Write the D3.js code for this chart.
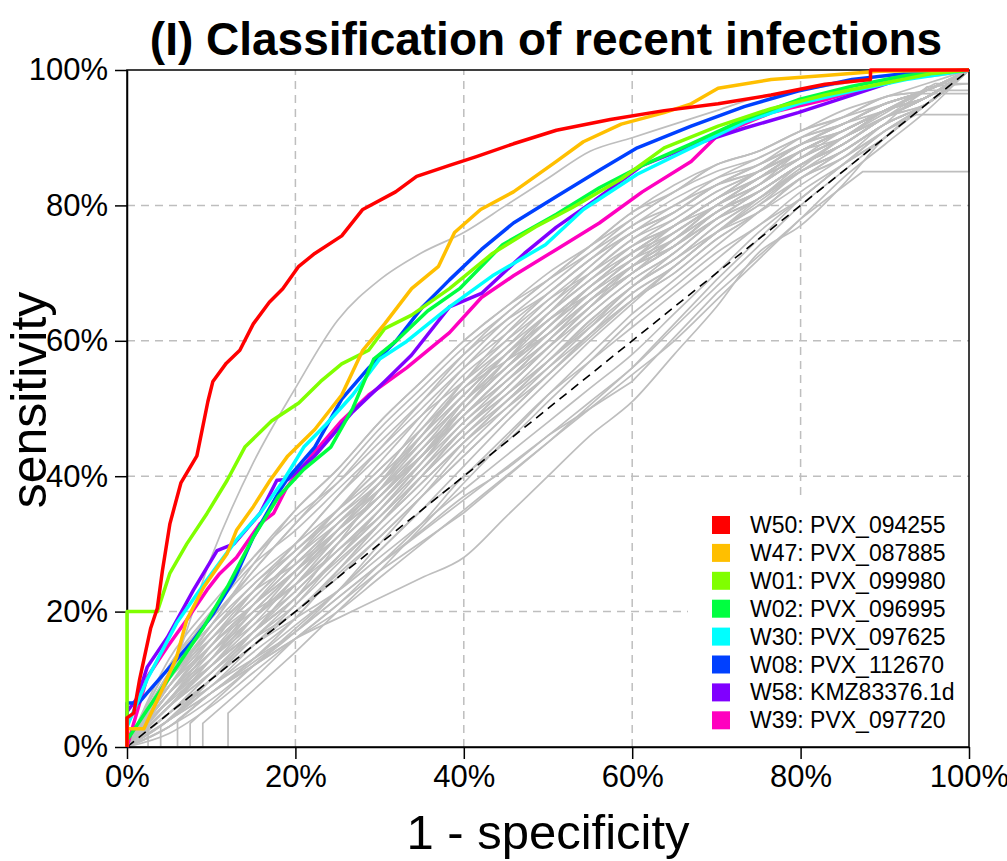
<!DOCTYPE html>
<html>
<head>
<meta charset="utf-8">
<script src="https://cdn.jsdelivr.net/npm/d3@7"></script>
<style>
  body { margin: 0; background: #fff; }
  text { font-family: "Liberation Sans", Arial, sans-serif; }
</style>
</head>
<body>
<div id="chart"></div>
<script>
// ROC curves, values in percent: [1 - specificity, sensitivity]
var seriesNames = ["W50: PVX_094255", "W47: PVX_087885", "W01: PVX_099980", "W02: PVX_096995",
  "W30: PVX_097625", "W08: PVX_112670", "W58: KMZ83376.1d", "W39: PVX_097720"];
var seriesColors = ["#FF0000", "#FFBF00", "#80FF00", "#00FF40", "#00FFFF", "#0040FF", "#8000FF", "#FF00BF"];

var w50 = [[0,0],[0,4.3],[0.8,5],[1.5,10],[2.8,17.5],[3.6,20.5],[4.2,26],[5.1,33],[6.4,39],[8.3,43],[9.6,51],[10.2,54],[11.8,56.7],[13.4,58.6],[15,62.5],[16.9,65.7],[18.5,67.7],[20.4,71],[22.3,72.9],[25.5,75.5],[28,79.4],[31.9,82],[34.4,84.3],[38.3,85.9],[41.5,87.2],[45.9,89.1],[51,91.1],[57.4,92.7],[63.8,94],[70.2,95],[76.5,96.3],[82.9,97.9],[88.3,98.6],[88.3,100],[100,100]];
var w47 = [[0,0],[0,2.7],[2,2.7],[4,8],[5.9,13.3],[7.1,18.8],[9.1,23.6],[11.9,28.6],[13,32],[15,35.5],[17,39.4],[19.1,43],[22.3,46.9],[25.5,52],[28,58.6],[30.6,62.5],[33.8,67.7],[37,71],[38.9,76],[42,79.4],[45.9,82],[51,86.5],[54.2,89.4],[58.7,92],[63.8,93.7],[67,95],[70.2,97.3],[76.5,98.6],[82.9,99.2],[89.3,99.8],[100,100]];
var w01 = [[0,0],[0,20],[3.6,20],[5.1,25.7],[7.1,30],[9.5,34.5],[11.9,39.4],[14,44.3],[17.2,48.2],[20.4,50.8],[23,54],[25.5,56.6],[28.7,58.6],[30.6,61.8],[33.8,63.8],[38.3,67.7],[43.4,72.9],[48.5,76.8],[52.9,79.7],[58.7,83.9],[63.8,88.5],[70.2,91.7],[76.5,94.3],[82.9,96.3],[89.3,97.9],[95.7,99.5],[100,100]];
var w02 = [[0,0],[0,1],[2.4,5.5],[5.9,11.8],[9.1,17.7],[11.9,23.6],[15,31],[18,37],[21,41],[24.2,44.3],[26.8,50],[29.3,57.3],[31.9,59.9],[35.7,64.4],[39.5,67.7],[44.6,74.2],[51,78.7],[56.1,82.6],[61.2,85.9],[67,89.1],[73.3,92.7],[79.7,95.6],[86.1,97.6],[92.5,99.2],[100,100]];
var w30 = [[0,0],[0,3],[2.4,10],[5.9,18.3],[9.5,24.7],[13,30.6],[15.8,34.5],[18.6,39.4],[21,44.3],[23.6,47.6],[26.8,52],[30,57.3],[33.2,59.9],[38.3,65],[43.4,69.6],[49.7,74.2],[54.2,79.4],[60.6,84.6],[67,88.5],[73.3,92.3],[79.7,95],[86.1,96.9],[92.5,98.6],[100,100]];
var w08 = [[0,0],[0,6.5],[1.4,6.5],[2.4,8],[4.8,11.4],[7.9,15.8],[10.3,19.8],[12.7,24.7],[15,31],[18.2,38],[19.1,39.7],[22.3,44.3],[25.5,51.4],[28.7,56],[31.9,59.9],[35.1,65],[38.3,69],[42.1,73.5],[45.9,77.4],[51,81.3],[56.1,85.2],[60.6,88.5],[67,91.7],[73.3,94.6],[79.7,96.9],[86.1,98.6],[92.5,99.5],[100,100]];
var w58 = [[0,0],[0,5.2],[1.2,7.2],[2.4,11.8],[4.8,16.2],[7.9,23.2],[10.7,29],[12.7,30],[15.8,34.5],[17.8,39.4],[19.1,39.5],[22.3,43],[26.8,49.5],[30.6,54],[33.8,57.9],[38.3,65],[42.1,67],[47.2,72.9],[51,76.8],[55.5,80.7],[61.2,85.9],[67.6,89.1],[73.3,91.4],[79.7,93.7],[86.1,96.3],[92.5,98.9],[100,100]];
var w39 = [[0,0],[0.8,3.5],[2.4,10.3],[4.8,14.8],[7.1,18.8],[9.5,23.2],[11,25.6],[13,28],[15.8,33],[17.4,34.5],[19,38.4],[22.3,43.6],[25.5,48.2],[28.7,52],[33.2,56],[38.3,61.2],[42.1,66.4],[45.9,69.6],[51,73.5],[56.1,77.4],[61.2,82],[67,86.5],[70.2,90.4],[76.5,93.7],[82.9,95.6],[89.3,97.9],[95.7,99.5],[100,100]];
var coloredCurves = [w50, w47, w01, w02, w30, w08, w58, w39];

// grey background curves: sensitivity (%) at these 1 - specificity values (%)
var grayFpr = [0,5,10,15,20,25,30,35,40,45,50,55,60,65,70,75,80,85,90,95,100];
var graySens = [
  [0,12,20,27,32,38,44,50,56,61,66,70,74,77,81,84,88,90,94,96,100],
  [0,5,10,16,22,30,38,46,54,61,67,72,77,80,84,87,90,92,95,97,100],
  [0,9,16,22,28,34,40,48,55,60,65,71,76,79,83,86,89,91,94,96,100],
  [0,7,14,21,27,33,38,44,50,56,62,68,73,77,81,84,88,91,94,96,100],
  [0,10,17,23,27,32,37,43,50,57,64,70,75,78,82,85,89,91,94,96,100],
  [0,6,12,18,25,32,39,46,53,58,63,67,71,74,78,81,86,89,93,96,100],
  [0,8,15,20,24,30,36,43,51,58,64,69,74,78,82,85,89,92,95,97,100],
  [0,4,9,15,21,28,35,42,49,55,60,66,71,75,80,83,87,90,93,96,100],
  [0,11,18,24,30,37,43,49,54,59,64,69,74,77,81,84,87,90,93,96,100],
  [0,6,11,17,22,28,34,41,48,53,59,65,71,75,80,84,88,91,94,96,100],
  [0,7,13,18,23,29,35,41,47,52,57,63,68,72,77,81,85,88,92,95,100],
  [0,9,15,21,26,32,38,45,52,58,63,68,72,75,79,82,86,89,93,96,100],
  [0,5,11,17,23,29,34,40,46,52,58,64,69,73,78,82,86,89,93,95,100],
  [0,8,14,19,25,32,39,47,54,60,66,71,76,79,83,86,89,92,95,97,100],
  [0,3,8,13,19,26,33,40,47,53,59,65,70,74,79,82,86,89,93,96,100],
  [0,6,13,20,26,32,37,43,49,54,59,64,69,73,78,82,86,89,93,96,100],
  [0,10,16,21,26,31,37,44,51,56,61,66,71,74,79,82,86,89,93,95,100],
  [0,4,10,16,21,27,33,39,45,50,55,61,67,71,76,80,85,88,92,95,100],
  [0,7,12,17,22,28,35,42,50,56,62,67,72,76,80,83,87,90,93,96,100],
  [0,5,10,15,20,25,31,37,43,49,55,61,66,70,75,79,84,87,91,95,100],
  [0,9,17,24,29,35,41,47,53,57,61,66,70,74,78,81,85,88,92,95,100],
  [0,3,7,12,17,23,30,37,44,50,56,62,68,72,77,81,85,88,92,95,100],
  [0,6,11,16,20,26,32,38,45,51,57,63,68,72,76,79,83,87,91,95,100],
  [0,8,13,19,24,30,36,43,50,56,61,66,70,74,79,83,88,91,94,97,100],
  [0,4,8,13,18,23,29,35,40,46,52,57,62,67,72,77,81,86,90,95,100],
  [0,11,19,25,30,35,40,46,52,58,64,69,73,76,80,83,87,90,94,96,100],
  [0,5,9,14,19,26,33,40,47,52,57,62,67,71,76,80,84,88,92,95,100],
  [0,7,13,19,24,29,35,41,47,53,59,65,70,74,79,82,86,89,93,96,100],
  [0,2,6,11,16,21,27,33,40,45,51,57,63,68,73,77,82,86,90,95,100],
  [0,6,12,17,22,28,34,40,46,51,56,61,66,70,75,79,84,87,92,95,100],
  [0,12,19,26,33,39,46,52,58,63,67,72,76,80,83,85,88,91,94,97,100],
  [0,10,18,27,35,41,48,54,60,65,69,73,77,81,84,86,89,92,95,97,100],
  [0,8,16,23,29,35,41,47,53,59,65,70,75,79,83,85,88,91,94,97,100],
  [0,11,20,28,35,41,48,54,60,65,70,74,78,82,85,87,90,92,95,97,100],
  [0,9,18,26,33,40,47,53,59,64,69,74,79,83,86,88,91,94,96,98,100],
  [0,13,21,28,34,39,45,51,57,63,68,73,78,82,86,88,91,93,95,97,100],
  [0,7,15,23,30,37,44,51,58,64,69,74,79,82,86,88,91,93,96,97,100],
  [0,6,13,21,28,35,42,49,56,62,67,72,76,79,83,86,90,93,96,97,100],
  [0,8,14,20,26,32,38,44,50,56,62,67,72,76,80,84,88,91,94,97,100],
  [0,6,12,19,26,33,39,45,51,57,63,68,73,77,81,85,89,92,95,97,100],
  [0,9,16,22,28,33,38,43,49,55,61,67,72,77,81,85,88,91,94,97,100],
  [0,5,11,17,24,31,37,43,49,55,60,66,71,76,80,84,88,91,94,96,100],
  [0,7,13,19,25,31,37,43,49,54,60,65,70,75,80,84,88,91,94,97,100],
  [0,10,17,23,29,34,39,45,51,57,62,68,73,77,81,85,89,92,94,97,100],
  [0,4,10,17,24,30,36,42,48,54,60,66,71,75,79,83,87,91,94,97,100],
  [0,8,15,21,27,33,39,46,52,58,63,68,73,77,80,84,87,90,93,96,100],
  [0,10,28,42,53,63,69,73,76,80,84,88,90,92,94,96,97,98,99,99,100],
  [0,3,8,12,16,19,22,25,28,34,40,46,51,58,65,73,77,83,90,95,100],
  [0,4,8,12,16,20,25,30,35,40,45,50,55,60,66,72,78,84,89,94,100],
  [0,4,9,13,17,22,27,32,37,41,46,51,56,62,68,74,80,85,90,95,100],
  [0,5,10,15,19,23,28,33,38,43,48,53,58,64,70,76,81,86,91,95,100]
];
// grey curves with flat steps (start along the x axis or end along x = 100%)
var grayStepCurves = [
  [[0,0],[6,0],[6,4],[10,8],[20,17],[30,27],[40,36.5],[50,46],[60,54],[70,67],[80,78],[87.4,85],[100,85],[100,100]],
  [[0,0],[9,0],[9,3.5],[15,10],[20,16],[30,26],[40,34.6],[50,45],[60,56],[70,69],[80,81],[90,91],[93.7,93.4],[100,93.4],[100,100]],
  [[0,0],[4,0],[4,3],[10,10],[20,20],[30,31],[40,43],[50,55],[60,66],[70,76],[80,85],[90,93],[95,97],[100,97],[100,100]],
  [[0,0],[12,0],[12,5],[20,14],[30,26],[40,39],[50,52],[60,64],[70,74],[80,84],[90,92],[95,97.5],[100,98],[100,100]],
  [[0,0],[2.5,0],[2.5,4],[10,12],[20,22],[30,33],[40,45],[50,57],[60,68],[70,78],[80,86],[90,94],[96,98],[100,98],[100,100]],
  [[0,0],[7.5,0],[7.5,3.5],[15,12],[25,23],[35,35],[45,48],[55,60],[65,71],[75,81],[85,90],[94,96.5],[100,96.5],[100,100]]
];
var tickValues = [0, 20, 40, 60, 80, 100];

var width = 1007, height = 861;
var svg = d3.select("#chart").append("svg")
  .attr("width", width)
  .attr("height", height);

var x = d3.scaleLinear().domain([0, 100]).range([127, 969]);
var y = d3.scaleLinear().domain([0, 100]).range([747, 70]);

var line = d3.line()
  .x(function(d) { return x(d[0]); })
  .y(function(d) { return y(d[1]); });
var smoothLine = d3.line()
  .x(function(d) { return x(d[0]); })
  .y(function(d) { return y(d[1]); })
  .curve(d3.curveMonotoneX);

// dashed grid
var grid = svg.append("g").attr("class", "grid");
grid.selectAll(".gx")
  .data(tickValues.slice(1, 5))
  .enter().append("line")
  .attr("x1", function(d) { return x(d); })
  .attr("x2", function(d) { return x(d); })
  .attr("y1", y(0)).attr("y2", y(100));
grid.selectAll(".gy")
  .data(tickValues.slice(1, 5))
  .enter().append("line")
  .attr("y1", function(d) { return y(d); })
  .attr("y2", function(d) { return y(d); })
  .attr("x1", x(0)).attr("x2", x(100));
grid.selectAll("line")
  .style("stroke", "#BEBEBE")
  .style("stroke-width", 1.5)
  .style("stroke-dasharray", "8,6");

// grey curves
var grayG = svg.append("g");
grayG.selectAll(".gs")
  .data(graySens.map(function(s) {
    return s.map(function(v, i) { return [grayFpr[i], v]; });
  }))
  .enter().append("path")
  .attr("d", smoothLine);
grayG.selectAll(".gst")
  .data(grayStepCurves)
  .enter().append("path")
  .attr("d", line);
grayG.selectAll("path")
  .style("fill", "none")
  .style("stroke", "#BEBEBE")
  .style("stroke-width", 1.7)
  .style("stroke-linejoin", "round");

// chance line
svg.append("line")
  .attr("x1", x(0)).attr("y1", y(0))
  .attr("x2", x(100)).attr("y2", y(100))
  .style("stroke", "#000")
  .style("stroke-width", 1.6)
  .style("stroke-dasharray", "9,6");

// legend background
var legX = 688, legY = 496;
svg.append("rect")
  .attr("x", legX).attr("y", legY)
  .attr("width", x(100) - legX).attr("height", y(0) - legY)
  .style("fill", "#fff");

// box and axes
svg.append("rect")
  .attr("x", x(0)).attr("y", y(100))
  .attr("width", x(100) - x(0)).attr("height", y(0) - y(100))
  .style("fill", "none")
  .style("stroke", "#000")
  .style("stroke-width", 1.5);

var fmt = function(d) { return d + "%"; };
var yAxis = svg.append("g")
  .attr("transform", "translate(" + x(0) + ",0)")
  .call(d3.axisLeft(y).tickValues(tickValues).tickFormat(fmt).tickSize(12).tickSizeOuter(0).tickPadding(7));
var xAxis = svg.append("g")
  .attr("transform", "translate(0," + y(0) + ")")
  .call(d3.axisBottom(x).tickValues(tickValues).tickFormat(fmt).tickSize(12).tickSizeOuter(0).tickPadding(6));
[yAxis, xAxis].forEach(function(a) {
  a.selectAll("path, line").style("stroke", "#000").style("stroke-width", 1.5);
  a.selectAll("text")
    .style("font-family", "'Liberation Sans', Arial, sans-serif")
    .style("font-size", "31px")
    .style("fill", "#000");
});

// coloured curves, first series drawn last (on top)
svg.append("g").selectAll("path")
  .data(coloredCurves.map(function(c, i) { return {pts: c, color: seriesColors[i]}; }).reverse())
  .enter().append("path")
  .attr("d", function(d) { return line(d.pts); })
  .style("fill", "none")
  .style("stroke", function(d) { return d.color; })
  .style("stroke-width", 3.5)
  .style("stroke-linejoin", "round");

// legend
var leg = svg.append("g").selectAll("g")
  .data(seriesNames)
  .enter().append("g")
  .attr("transform", function(d, i) { return "translate(712," + (525 + i * 27.9) + ")"; });
leg.append("rect")
  .attr("x", 0).attr("y", -9)
  .attr("width", 18).attr("height", 18)
  .style("fill", function(d, i) { return seriesColors[i]; });
leg.append("text")
  .attr("x", 38)
  .attr("dy", "0.35em")
  .style("font-size", "23px")
  .text(function(d) { return d; });

// titles
svg.append("text")
  .attr("x", 546).attr("y", 55)
  .attr("text-anchor", "middle")
  .style("font-size", "46px")
  .style("font-weight", "bold")
  .text("(I) Classification of recent infections");
svg.append("text")
  .attr("x", 548).attr("y", 849)
  .attr("text-anchor", "middle")
  .style("font-size", "49px")
  .text("1 - specificity");
svg.append("text")
  .attr("transform", "translate(46,400) rotate(-90)")
  .attr("text-anchor", "middle")
  .style("font-size", "50px")
  .text("sensitivity");
</script>
</body>
</html>
